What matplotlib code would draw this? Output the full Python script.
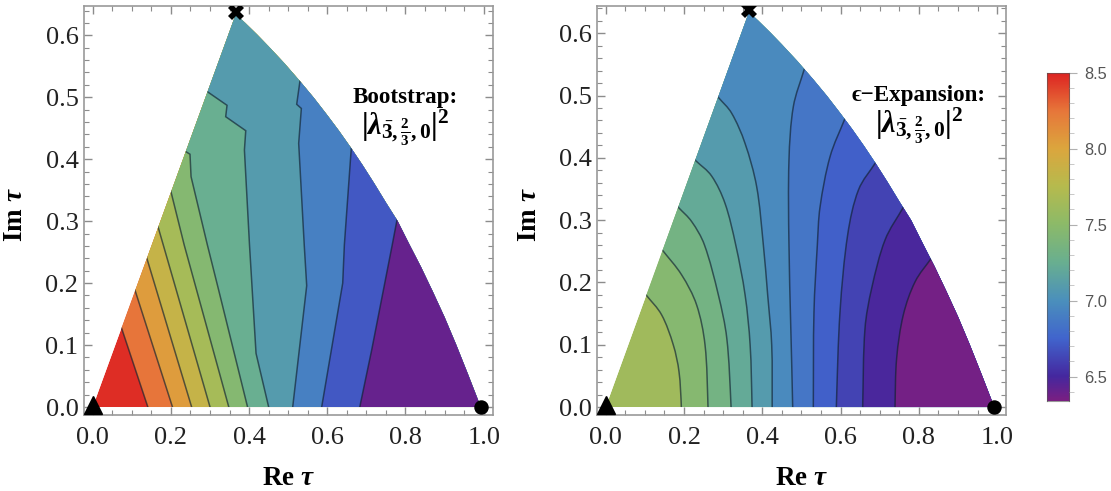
import numpy as np
import matplotlib
matplotlib.use("Agg")
import matplotlib.pyplot as plt
from matplotlib.colors import LinearSegmentedColormap, Normalize
from matplotlib.patches import Polygon, PathPatch
from matplotlib.path import Path
from matplotlib.ticker import MultipleLocator

plt.rcParams['font.family'] = ['Liberation Serif', 'DejaVu Serif']
plt.rcParams['mathtext.fontset'] = 'custom'
plt.rcParams['mathtext.rm'] = 'Liberation Serif:bold'
plt.rcParams['mathtext.bf'] = 'Liberation Serif:bold'
plt.rcParams['mathtext.it'] = 'Liberation Serif:italic:bold'

# outline of the region, bottom-left, apex, then arc to bottom right
domain_x = [0.0, 0.366, 0.39, 0.42, 0.45, 0.49, 0.53, 0.565, 0.60, 0.63, 0.66, 0.69, 0.72, 0.75,
            0.78, 0.81, 0.84, 0.87, 0.90, 0.93, 0.96, 0.9925]
domain_y = [0.0, 0.634, 0.620, 0.6015, 0.582, 0.555, 0.526, 0.4995, 0.471, 0.4457, 0.4189, 0.3907,
            0.361, 0.330, 0.30, 0.2624, 0.2256, 0.186, 0.1449, 0.100, 0.0526, 0.0]

# bootstrap contours, left to right
boot_x = [
    [0.0724, 0.141],
    [0.1074, 0.204],
    [0.138, 0.253],
    [0.167, 0.300],
    [0.2003, 0.234, 0.348],
    [0.2386, 0.2488, 0.2515, 0.2933, 0.321, 0.396],
    [0.2932, 0.3435, 0.3401, 0.3914, 0.388, 0.401, 0.4177, 0.450],
    [0.530, 0.5217, 0.5336, 0.5268, 0.541, 0.5473, 0.5115],
    [0.6614, 0.6436, 0.6394, 0.5856],
    [0.779, 0.766, 0.7135, 0.683],
]
boot_y = [
    [0.13, 0.0],
    [0.19, 0.0],
    [0.241, 0.0],
    [0.291, 0.0],
    [0.347, 0.2615, 0.0],
    [0.412, 0.408, 0.3718, 0.2615, 0.1916, 0.0],
    [0.509, 0.487, 0.4686, 0.446, 0.4149, 0.2615, 0.0866, 0.0],
    [0.526, 0.4886, 0.4819, 0.4256, 0.2615, 0.1958, 0.0],
    [0.4186, 0.2615, 0.2, 0.0],
    [0.3046, 0.2615, 0.092, 0.0],
]
boot_bands = [8.46, 8.25, 8.05, 7.85, 7.65, 7.45, 7.25, 7.09, 6.91, 6.7, 6.4]

# epsilon expansion contours, left to right
eps_x = [
    [0.103, 0.143, 0.1727, 0.1872, 0.1932],
    [0.1446, 0.194, 0.2323, 0.2537, 0.2613],
    [0.1855, 0.2197, 0.252, 0.2877, 0.3093, 0.3202],
    [0.2299, 0.2707, 0.3048, 0.332, 0.356, 0.3689, 0.3738],
    [0.2877, 0.3217, 0.3558, 0.3856, 0.4026, 0.4137, 0.424, 0.4252],
    [0.5073, 0.4792, 0.4681, 0.4681, 0.4776],
    [0.6113, 0.573, 0.5474, 0.5406, 0.532, 0.5303],
    [0.6897, 0.6455, 0.6182, 0.5985, 0.5891],
    [0.7602, 0.7134, 0.6793, 0.6623, 0.6564],
    [0.8327, 0.7902, 0.7602, 0.7432, 0.739],
]
eps_y = [
    [0.18, 0.1477, 0.0995, 0.0567, 0.0],
    [0.252, 0.212, 0.1637, 0.0995, 0.0],
    [0.3205, 0.2975, 0.2605, 0.18, 0.1102, 0.0],
    [0.3954, 0.3706, 0.3268, 0.2605, 0.18, 0.0995, 0.0],
    [0.497, 0.4716, 0.4233, 0.3537, 0.2605, 0.18, 0.0995, 0.0],
    [0.5425, 0.482, 0.3961, 0.2605, 0.0],
    [0.4634, 0.4018, 0.3207, 0.2605, 0.153, 0.0],
    [0.3927, 0.3483, 0.2771, 0.153, 0.0],
    [0.3207, 0.268, 0.1904, 0.1261, 0.0],
    [0.2397, 0.2009, 0.1479, 0.0783, 0.0],
]
eps_bands = [7.62, 7.46, 7.33, 7.21, 7.09, 6.97, 6.85, 6.73, 6.61, 6.49, 6.36]

cbar_min = 6.34
cbar_max = 8.5
cbar_vals = [6.34, 6.5, 6.75, 7.0, 7.25, 7.5, 7.75, 8.0, 8.25, 8.5]
cbar_cols = ['#7a1f82', '#45289f', '#4165cd', '#4b90bc', '#69af90', '#8cba69', '#b6bb4e',
             '#dca63e', '#e7763a', '#dd2222']

cmap = LinearSegmentedColormap.from_list(
    'rb', [((v - cbar_min) / (cbar_max - cbar_min), c) for v, c in zip(cbar_vals, cbar_cols)])
norm = Normalize(cbar_min, cbar_max)


def contour_verts(x, y, smooth):
    # vertices and codes of one contour, bezier through the read points if smooth
    p = np.column_stack([x, y])
    verts = [p[0]]
    codes = [Path.MOVETO]
    for i in range(len(p) - 1):
        if not smooth:
            verts.append(p[i + 1])
            codes.append(Path.LINETO)
            continue
        d0 = p[i + 1] - p[max(i - 1, 0)]
        d1 = p[min(i + 2, len(p) - 1)] - p[i]
        seg = np.hypot(*(p[i + 1] - p[i]))
        verts.append(p[i] + d0 / np.hypot(*d0) * seg / 3)
        verts.append(p[i + 1] - d1 / np.hypot(*d1) * seg / 3)
        verts.append(p[i + 1])
        codes += [Path.CURVE4] * 3
    return verts, codes


def draw_panel(ax, cx, cy, bands, smooth, xlim, ylim, title, tx, ty, fx, fy):
    ax.set_xlim(xlim)
    ax.set_ylim(ylim)
    clip = Polygon(np.column_stack([domain_x, domain_y]), transform=ax.transData)
    hi = ax.fill(domain_x, domain_y, color=cmap(norm(bands[0])), lw=0)[0]
    hi.set_clip_path(clip)
    for i in range(len(cx)):
        x = np.array(cx[i])
        y = np.array(cy[i])
        # push the ends a bit outside of the region, the clip cuts them back
        x0 = x[0] + 0.15 * (x[0] - x[1])
        y0 = y[0] + 0.15 * (y[0] - y[1])
        x = np.r_[x0, x, x[-1]]
        y = np.r_[y0, y, -0.03]
        verts, codes = contour_verts(x, y, smooth)
        band = Path(verts + [(2, -0.03), (2, 1), (x0, 1), (x0, y0)],
                    codes + [Path.LINETO] * 3 + [Path.CLOSEPOLY])
        p = ax.add_patch(PathPatch(band, facecolor=cmap(norm(bands[i + 1])), lw=0, zorder=2 + i * 0.01))
        p.set_clip_path(clip)
        l = ax.add_patch(PathPatch(Path(verts, codes), facecolor='none', edgecolor='#102030',
                                   alpha=0.65, lw=1.1, zorder=3))
        l.set_clip_path(clip)

    ax.plot([0.0], [0.003], '^', color='k', ms=13, zorder=5, clip_on=False)
    ax.plot([0.9925], [0.0], 'o', color='k', ms=9.4, zorder=5, clip_on=False)
    ax.plot([0.366], [0.637], 'X', color='k', ms=11.5, mew=0, zorder=5)

    ax.xaxis.set_major_locator(MultipleLocator(0.2))
    ax.xaxis.set_minor_locator(MultipleLocator(0.05))
    ax.yaxis.set_major_locator(MultipleLocator(0.1))
    ax.yaxis.set_minor_locator(MultipleLocator(0.02))
    ax.tick_params(which='major', direction='in', top=True, right=True, length=6, width=1.0,
                   color='#8c8c8c', labelsize=19, labelcolor='#222222', pad=9)
    ax.tick_params(which='minor', direction='in', top=True, right=True, length=3.5, width=0.8,
                   color='#8c8c8c')
    ax.tick_params(axis='y', which='major', pad=4)
    for s in ax.spines.values():
        s.set_color('#999999')
        s.set_linewidth(1.2)

    ax.set_xlabel(r'$\mathrm{Re}\ \mathit{\tau}$', fontsize=19.5, color='k')
    ax.set_ylabel(r'$\mathrm{Im}\ \mathit{\tau}$', fontsize=19.5, color='k')
    ax.xaxis.set_label_coords(0.5, -0.125)
    ax.yaxis.set_label_coords(-0.136, 0.49)

    ax.text(tx, ty, title, fontsize=16.6, fontweight='bold', ha='center', va='center', color='k')
    ax.text(fx, fy, r'$|\lambda_{\bar{3},\frac{2}{3},0}|^{2}$', fontsize=22,
            ha='center', va='center', color='k')


fig = plt.figure(figsize=(11.11, 4.91), dpi=100)
w = 1111.0
h = 491.0
ax1 = fig.add_axes([84 / w, 1 - 415 / h, 409 / w, 409 / h])
ax2 = fig.add_axes([597.3 / w, 1 - 415 / h, 408.7 / w, 409 / h])

draw_panel(ax1, boot_x, boot_y, boot_bands, False, (-0.0223, 1.0238), (-0.0129, 0.6473),
           'Bootstrap:', 0.799, 0.499, 0.799, 0.451)
draw_panel(ax2, eps_x, eps_y, eps_bands, True, (-0.0215, 1.0225), (-0.0128, 0.6437),
           '\u03f5\u2212Expansion:', 0.800, 0.500, 0.800, 0.451)

# colour bar
cax = fig.add_axes([1046.7 / w, 1 - 401 / h, 22.6 / w, 328.3 / h])
grad = np.linspace(cbar_min, cbar_max, 256).reshape(-1, 1)
cax.imshow(grad, cmap=cmap, norm=norm, origin='lower', aspect='auto',
           extent=(0, 1, cbar_min, cbar_max))
cax.set_xticks([])
cax.yaxis.tick_right()
cax.yaxis.set_major_locator(MultipleLocator(0.5))
cax.yaxis.set_minor_locator(MultipleLocator(0.1))
cax.tick_params(which='major', length=5.5, width=0.8, color='#b0b0b0', pad=5, labelsize=11.8,
                labelcolor='#555555', labelfontfamily='Liberation Sans')
cax.tick_params(which='minor', length=3.5, width=0.7, color='#c8c8c8')
for s in cax.spines.values():
    s.set_color('#555555')
    s.set_alpha(0.6)
    s.set_linewidth(0.8)

fig.savefig('out.png', dpi=100)
